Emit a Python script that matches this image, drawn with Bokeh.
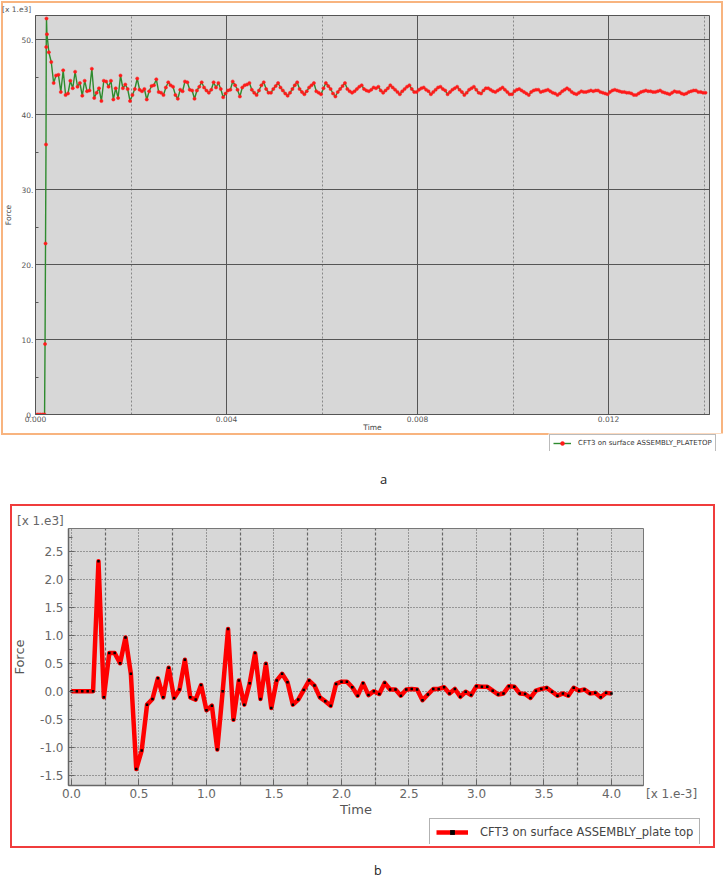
import numpy as np
from bokeh.plotting import figure
from bokeh.models import (FixedTicker, Legend, LegendItem, Div,
                          Range1d, GlobalInlineStyleSheet)
from bokeh.embed import file_html
from bokeh.resources import INLINE

# ---------------- chart a data ----------------
a_rise_time_ms = [0.0, 0.05, 0.10, 0.15, 0.19, 0.20, 0.21, 0.22, 0.225, 0.23, 0.24]
a_rise_force_k = [0.0, 0.0, 0.0, 0.0, 0.0, 9.4, 22.8, 36.0, 49.0, 52.8, 50.7]
a_time_start_ms = 0.28
a_time_step_ms = 0.05
a_force_k = [
    48.3, 47.0, 44.2, 45.2, 45.3, 43.0, 45.9, 42.6, 42.8, 44.5, 43.5, 45.7, 43.7, 44.2, 42.5, 44.5, 43.1, 43.2, 46.1, 42.2,
    42.9, 43.5, 41.8, 44.5, 44.4, 43.7, 44.5, 42.0, 43.5, 42.2, 45.2, 43.5, 44.0, 43.4, 41.8, 42.6, 43.4, 44.8, 43.3, 43.1,
    43.4, 42.0, 43.1, 43.8, 43.9, 44.7, 43.0, 42.9, 42.6, 43.6, 44.3, 43.9, 43.7, 42.6, 42.1, 43.3, 43.1, 44.4, 44.3, 43.3,
    43.2, 42.1, 43.2, 43.7, 44.3, 43.6, 43.2, 42.9, 43.3, 44.3, 43.6, 44.2, 43.4, 42.3, 42.8, 43.2, 43.3, 44.4, 43.9, 43.3,
    42.4, 43.6, 43.9, 44.0, 44.2, 43.3, 42.9, 42.6, 43.2, 43.9, 44.3, 43.4, 42.9, 42.9, 43.4, 43.8, 44.2, 43.6, 43.2, 42.8,
    42.5, 42.9, 43.4, 43.9, 44.3, 43.4, 43.0, 42.7, 43.1, 43.6, 43.9, 44.2, 43.1, 42.9, 42.7, 43.5, 44.2, 43.8, 43.4, 42.8,
    42.4, 43.0, 43.4, 43.8, 44.2, 43.4, 43.1, 42.9, 43.1, 43.4, 43.7, 43.9, 43.4, 43.2, 43.1, 43.3, 43.6, 43.5, 43.7, 43.2,
    42.9, 43.2, 43.5, 43.9, 43.6, 43.3, 43.0, 42.7, 43.1, 43.4, 43.7, 43.9, 43.4, 43.0, 43.0, 43.3, 43.5, 43.6, 43.3, 43.1,
    42.7, 43.0, 43.3, 43.6, 43.7, 43.4, 43.2, 42.7, 43.0, 43.3, 43.5, 43.7, 43.3, 43.0, 42.6, 42.9, 43.3, 43.5, 43.7, 43.3,
    42.9, 42.8, 43.2, 43.5, 43.5, 43.3, 43.1, 43.0, 43.2, 43.4, 43.6, 43.3, 43.0, 42.7, 42.7, 43.1, 43.3, 43.4, 43.2, 43.0,
    42.8, 42.6, 43.0, 43.2, 43.3, 43.3, 43.0, 43.1, 43.2, 43.3, 43.1, 42.9, 42.8, 42.6, 42.8, 43.1, 43.3, 43.5, 43.3, 43.0,
    42.8, 42.7, 42.9, 43.1, 43.0, 43.0, 43.1, 43.2, 43.1, 43.2, 43.2, 43.0, 42.9, 42.8, 42.7, 43.0, 43.2, 43.3, 43.2, 43.1,
    43.0, 43.0, 42.9, 42.9, 42.8, 42.6, 42.6, 42.8, 43.0, 43.1, 43.2, 43.1, 43.1, 43.0, 43.0, 43.1, 43.2, 43.0, 42.9, 42.8,
    42.7, 42.9, 43.1, 43.0, 43.0, 42.8, 42.7, 42.8, 43.0, 43.1, 43.2, 43.2, 43.0, 43.0, 42.9, 42.9,
]
a_x_ticks = [0, 0.004, 0.008, 0.012]
a_x_tick_labels = ["0.000", "0.004", "0.008", "0.012"]
a_x_minor = [0.002, 0.006, 0.010, 0.014]
a_y_ticks = [0, 10, 20, 30, 40, 50]
a_y_tick_labels = ["0.", "10.", "20.", "30.", "40.", "50."]
a_y_minor = [5, 15, 25, 35, 45]
a_legend_label = "CFT3 on surface ASSEMBLY_PLATETOP"

# ---------------- chart b data ----------------
b_time_step_ms = 0.04
b_force_k = [
    0.0, 0.0, 0.0, 0.0, 0.0, 2.32, -0.11, 0.68, 0.68, 0.50, 0.96, 0.31, -1.39, -1.06, -0.24, -0.14, 0.23, -0.11, 0.42, -0.12,
    0.03, 0.56, -0.11, -0.15, 0.11, -0.34, -0.26, -1.04, 0.0, 1.11, -0.51, 0.19, -0.24, 0.14, 0.68, -0.14, 0.49, -0.30, 0.19, 0.31,
    0.16, -0.24, -0.15, 0.02, 0.19, 0.10, -0.11, -0.18, -0.26, 0.13, 0.17, 0.17, 0.07, -0.08, 0.14, -0.07, 0.0, -0.05, 0.15, 0.03,
    0.03, -0.08, 0.03, 0.04, 0.03, -0.16, -0.06, 0.04, 0.04, 0.07, -0.04, 0.04, -0.10, -0.01, -0.07, 0.09, 0.08, 0.08, 0.01, -0.06,
    -0.04, 0.09, 0.08, -0.04, -0.05, -0.12, 0.01, 0.04, 0.06, -0.01, -0.08, -0.04, -0.08, 0.06, 0.01, 0.03, -0.04, -0.03, -0.11, -0.03,
    -0.04,
]
b_x_ticks = [0, 0.5, 1, 1.5, 2, 2.5, 3, 3.5, 4]
b_x_tick_labels = ["0.0", "0.5", "1.0", "1.5", "2.0", "2.5", "3.0", "3.5", "4.0"]
b_x_minor = [0.25, 0.75, 1.25, 1.75, 2.25, 2.75, 3.25, 3.75, 4.25]
b_y_ticks = [-1.5, -1, -0.5, 0, 0.5, 1, 1.5, 2, 2.5]
b_y_tick_labels = ["-1.5", "-1.0", "-0.5", "0.0", "0.5", "1.0", "1.5", "2.0", "2.5"]
b_y_minor = [-1.75, -1.25, -0.75, -0.25, 0.25, 0.75, 1.25, 1.75, 2.25, 2.75]
b_legend_label = "CFT3 on surface ASSEMBLY_plate top"

FONT = "DejaVu Sans"


def norm(v):
    return int(v) if float(v).is_integer() else v


def abs_pos(left, top):
    return {"position": "absolute", "left": f"{left}px", "top": f"{top}px"}


def page_text(text, left, top, size, color, font=FONT, line_height=None):
    st = abs_pos(left, top)
    st.update({"font-family": font, "font-size": size, "line-height": line_height or size,
               "color": color, "white-space": "nowrap"})
    return Div(text=text, margin=0, styles=st)


def page_box(left, top, width, height, border):
    st = abs_pos(left, top)
    st.update({"border": border, "box-sizing": "border-box",
               "pointer-events": "none", "background": "transparent"})
    return Div(text="", width=width, height=height, margin=0, styles=st)


def legend_figure(left, top, width, height):
    f = figure(width=width, height=height, output_backend="svg", toolbar_location=None,
               min_border=0, x_axis_type=None, y_axis_type=None,
               x_range=Range1d(0, 1), y_range=Range1d(0, 1),
               outline_line_color=None, background_fill_color="white",
               border_fill_color="white", styles=abs_pos(left, top))
    f.grid.visible = False
    return f


page_css = GlobalInlineStyleSheet(css="html, body { margin: 0 !important; padding: 0 !important; overflow: hidden; }")

# ---------------- chart a ----------------
a_time_ms = a_rise_time_ms + [a_time_start_ms + i * a_time_step_ms for i in range(len(a_force_k))]
a_time_s = np.array(a_time_ms) * 1e-3
a_force = np.array(a_rise_force_k + a_force_k)

A_LINE = dict(line_color="#2e8b2e", line_width=1.4)
A_MARK = dict(size=3.2, marker="circle", fill_color="#ff1a1a", line_color="#ff1a1a", line_width=0.5)

pa = figure(width=723, height=490, output_backend="svg", toolbar_location=None,
            x_range=Range1d(0, 0.014114), y_range=Range1d(0, 53.2),
            min_border_left=35, min_border_right=14, min_border_top=15, min_border_bottom=76,
            background_fill_color="#d7d7d7", border_fill_color="white",
            outline_line_color="#555555", outline_line_width=1,
            stylesheets=[page_css])
pa.line(a_time_s, a_force, **A_LINE)
pa.scatter(a_time_s, a_force, **A_MARK)

pa.xaxis.ticker = FixedTicker(ticks=a_x_ticks, minor_ticks=a_x_minor)
pa.xaxis.major_label_overrides = {norm(k): v for k, v in zip(a_x_ticks, a_x_tick_labels)}
pa.yaxis.ticker = FixedTicker(ticks=a_y_ticks, minor_ticks=a_y_minor)
pa.yaxis.major_label_overrides = {norm(k): v for k, v in zip(a_y_ticks, a_y_tick_labels)}
for ax in (pa.xaxis, pa.yaxis):
    ax.axis_line_color = "#555555"
    ax.major_tick_out = 0
    ax.major_tick_in = 0
    ax.minor_tick_out = 0
    ax.minor_tick_in = 3
    ax.minor_tick_line_color = "#555555"
    ax.major_label_text_font = FONT
    ax.major_label_text_font_size = "7.5px"
    ax.major_label_text_color = "#555555"
    ax.major_label_standoff = 2
    ax.axis_label_text_font = FONT
    ax.axis_label_text_font_size = "7.5px"
    ax.axis_label_text_font_style = "normal"
    ax.axis_label_text_color = "#444444"
    ax.axis_label_standoff = 2
pa.xaxis.minor_tick_in = 0
pa.xaxis.major_label_standoff = 1
pa.xaxis.axis_label_standoff = -2
pa.xaxis.axis_label = "Time"
pa.yaxis.axis_label = "Force"
pa.yaxis.axis_label_standoff = 6
pa.xgrid.grid_line_color = "#555555"
pa.xgrid.grid_line_width = 1
pa.xgrid.minor_grid_line_color = "#888888"
pa.xgrid.minor_grid_line_dash = "2 2"
pa.ygrid.grid_line_color = "#555555"
pa.ygrid.grid_line_width = 1

# legend of chart a (sits below the chart frame)
la_leg = legend_figure(548, 433, 176, 18)
la_l = la_leg.line(a_time_s, a_force, visible=False, **A_LINE)
la_s = la_leg.scatter(a_time_s, a_force, visible=False, **A_MARK)
la_leg.add_layout(Legend(items=[LegendItem(label=a_legend_label, renderers=[la_l, la_s])],
                         location="top_left", orientation="vertical",
                         label_text_font=FONT, label_text_font_size="7px", label_text_color="#333333",
                         glyph_width=18, glyph_height=10, label_height=10, label_standoff=7,
                         padding=3, margin=1, spacing=0,
                         border_line_color="#777777", border_line_width=1,
                         background_fill_color="white", background_fill_alpha=1,
                         inactive_fill_alpha=0))

# ---------------- chart b ----------------
b_time_ms = np.array([i * b_time_step_ms for i in range(len(b_force_k))])
b_force = np.array(b_force_k)

B_LINE = dict(line_color="#ff0000", line_width=4.5, line_join="round")
B_MARK = dict(size=2.5, marker="square", fill_color="black", line_color="black", line_width=0)

pb = figure(width=723, height=388, output_backend="svg", toolbar_location=None,
            x_range=Range1d(-0.022, 4.237), y_range=Range1d(-1.684, 2.905),
            min_border_left=68, min_border_right=80, min_border_top=38, min_border_bottom=93,
            background_fill_color="#d7d7d7", border_fill_color="white",
            outline_line_color="#777777", outline_line_width=1)
pb.line(b_time_ms, b_force, **B_LINE)
pb.scatter(b_time_ms, b_force, **B_MARK)

pb.xaxis.ticker = FixedTicker(ticks=b_x_ticks, minor_ticks=b_x_minor)
pb.xaxis.major_label_overrides = {norm(k): v for k, v in zip(b_x_ticks, b_x_tick_labels)}
pb.yaxis.ticker = FixedTicker(ticks=b_y_ticks, minor_ticks=b_y_minor)
pb.yaxis.major_label_overrides = {norm(k): v for k, v in zip(b_y_ticks, b_y_tick_labels)}
for ax in (pb.xaxis, pb.yaxis):
    ax.axis_line_color = "#666666"
    ax.axis_line_width = 1.5
    ax.major_tick_out = 0
    ax.major_tick_in = 6
    ax.minor_tick_out = 0
    ax.minor_tick_in = 4
    ax.major_tick_line_color = "#666666"
    ax.minor_tick_line_color = "#666666"
    ax.major_label_text_font = FONT
    ax.major_label_text_font_size = "12px"
    ax.major_label_text_color = "#666666"
    ax.major_label_standoff = 5
    ax.axis_label_text_font = FONT
    ax.axis_label_text_font_size = "13px"
    ax.axis_label_text_font_style = "normal"
    ax.axis_label_text_color = "#555555"
    ax.axis_label_standoff = 4
pb.xaxis.major_label_standoff = 3
pb.xaxis.axis_label_standoff = 1
pb.xaxis.axis_label = "Time"
pb.yaxis.axis_label = "Force"
pb.yaxis.axis_label_standoff = 10
pb.xgrid.grid_line_color = "#555555"
pb.xgrid.grid_line_dash = "1 2"
pb.xgrid.minor_grid_line_color = "#666666"
pb.xgrid.minor_grid_line_dash = "3 2"
pb.xgrid.minor_grid_line_width = 1.2
pb.ygrid.grid_line_color = "#555555"
pb.ygrid.grid_line_dash = "1 2"

# legend of chart b (sits below the chart frame)
lb_leg = legend_figure(428, 817, 284, 27)
lb_l = lb_leg.line(b_time_ms, b_force, visible=False, **B_LINE)
lb_s = lb_leg.scatter(b_time_ms, b_force, visible=False, **B_MARK)
lb_leg.add_layout(Legend(items=[LegendItem(label=b_legend_label, renderers=[lb_l, lb_s])],
                         location="top_left", orientation="vertical",
                         label_text_font=FONT, label_text_font_size="11.5px", label_text_color="#444444",
                         glyph_width=32, glyph_height=12, label_height=12, label_standoff=12,
                         padding=6, margin=1, spacing=0,
                         border_line_color="#666666", border_line_width=1.5,
                         background_fill_color="white", background_fill_alpha=1,
                         inactive_fill_alpha=0))

# ---------------- page texts and panel frames ----------------
extras = [
    page_box(1, 1, 722, 434, "2px solid #f8b47f"),
    page_box(10, 504, 705, 344, "2px solid #f03c3c"),
    la_leg,
    lb_leg,
    page_text("[x 1.e3]", 2, 6, "7.5px", "#555555"),
    page_text("a", 380, 473, "13px", "#222222", "Open Sans"),
    page_text("[x 1.e3]", 17, 515, "12px", "#666666"),
    page_text("[x 1.e-3]", 646, 788, "12px", "#666666"),
    page_text("b", 374, 864, "12.5px", "#222222", "Open Sans", "13px"),
]

open("out.html", "w").write(file_html([pa, pb] + extras, INLINE))
